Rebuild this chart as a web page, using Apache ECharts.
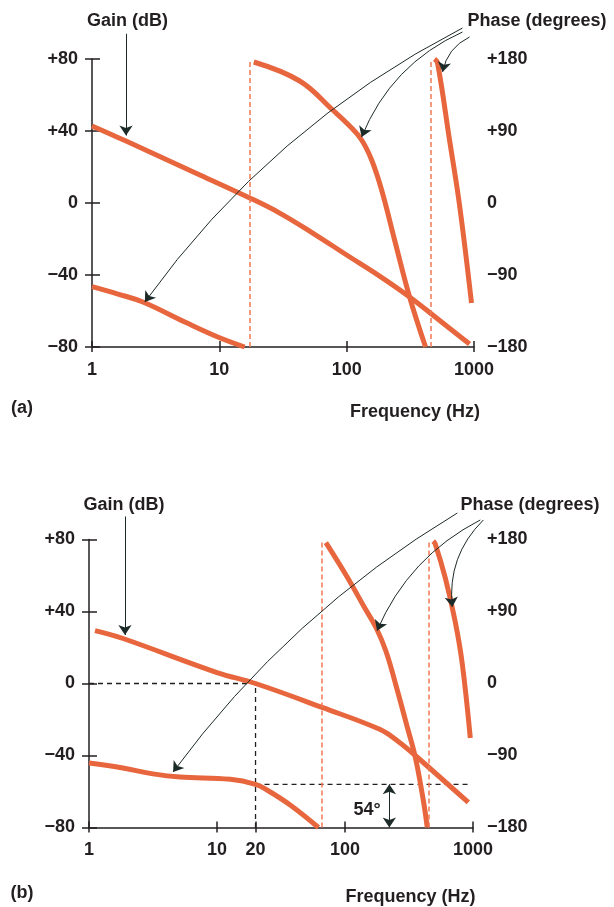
<!DOCTYPE html>
<html>
<head>
<meta charset="utf-8">
<script src="https://cdn.jsdelivr.net/npm/echarts@6/dist/echarts.min.js"></script>
<style>
html, body { margin: 0; padding: 0; background: #fff; }
#chart { width: 614px; height: 907px; }
</style>
</head>
<body>
<div id="chart"></div>
<script>
// Bode plots of a control loop: (a) before compensation, (b) after, with a
// 54° phase margin at the 20 Hz gain crossover.
// Frequency in Hz, gain in dB, phase in degrees (wrapped into ±180).

const freqTicksA = [1, 10, 100, 1000];
const freqTicksB = [1, 10, 20, 100, 1000];
const gainRange = [-80, 80];
const phaseRange = [-180, 180];

// ---- panel (a) ----
const gainA = [[1, 42.8], [1.85, 34.4], [7.03, 15.6], [17.35, 2.8], [29.8, -5.6], [54.1, -16.7],
  [100, -28.9], [181.5, -40.6], [312, -52.2], [508, -63.9], [922, -78.3]];
const phaseA1 = [[1, -104.6], [1.6, -113.8], [2.51, -123.8], [5.36, -148.8], [9.73, -167.5], [15.8, -180]];
const phaseA2 = [[18.65, 176.25], [42.8, 152.5], [77.7, 116.25], [105.6, 96.25], [131.1, 78.75],
  [157.1, 53.75], [188.2, 16.25], [237.9, -46.25], [312, -117.5], [416.6, -180]];
const phaseA3 = [[490, 180], [517.3, 175], [642.5, 78.75], [769.6, -2.5], [955.9, -125]];
const wrapA = [17.3, 456];

// ---- panel (b) ----
const gainB = [[1.114, 29.4], [1.845, 25], [10, 6.1], [20, 0], [66.3, -13.3], [188.4, -25.6],
  [260.6, -32.2], [353.9, -40], [919, -66.1]];
const phaseB1 = [[1, -99.4], [1.84, -105.6], [3.16, -113], [5.14, -117], [12.7, -119.8], [20, -126],
  [24.5, -133], [37.3, -151.9], [62, -180]];
const phaseB2 = [[70.9, 176], [104, 133.1], [141.3, 95.6], [175.4, 69.4], [209.9, 39.4], [255.9, -8.1],
  [306.4, -54.4], [353.9, -91.9], [408.7, -145.6], [439.2, -180]];
const phaseB3 = [[489, 178], [507.3, 174.4], [607.4, 131.9], [727, 76.9], [824.8, 24.4], [952.6, -68.1]];
const wrapB = [66, 453];

const crossoverHz = 20;
const phaseMarginDeg = 54;
const marginLevel = -180 + phaseMarginDeg;
const crossoverGuide = [[1, 0], [crossoverHz, 0], [crossoverHz, -80]];
const marginGuide = [[crossoverHz, marginLevel], [970, marginLevel]];

// call-out arrows: [from, to, curveness]
const gainArrowA = [[1.85, 94], [1.85, 37.5]];
const phaseArrowsA = [
  [[812, 218.75], [2.6, -123.75], -0.12],
  [[812, 213.75], [131, 82.5], -0.2],
  [[922, 207.5], [566, 163.75], -0.25]
];
const gainArrowB = [[1.91, 92.8], [1.91, 27]];
const phaseArrowsB = [
  [[754, 213.1], [4.54, -110.6], -0.1],
  [[1140, 204.4], [178, 66], -0.18],
  [[1205, 204.4], [689, 95.6], -0.24]
];
const marginArrow = [[222, marginLevel], [222, -180]];

const INK = '#231f20';
const ORANGE = '#e8663d';
const WRAP = '#f07a55';
const ARROW = '#1d2b28';
const FONT = '"Liberation Sans", Arial, sans-serif';

const signed = v => v > 0 ? '+' + v : (v < 0 ? '\u2212' + Math.abs(v) : '0');

const chart = echarts.init(document.getElementById('chart'), null, { renderer: 'canvas' });

const grids = [
  { left: 92, top: 59, width: 382, height: 288 },
  { left: 89, top: 539.5, width: 384, height: 288 }
];

function freqAxes(gridIndex, ticks) {
  const base = {
    type: 'log', logBase: 10, min: 1, max: 1000, gridIndex, position: 'bottom', splitLine: { show: false }
  };
  return [
    Object.assign({}, base, {
      axisLine: { show: true, onZero: false, lineStyle: { color: INK, width: 1.5 } },
      axisTick: { show: true, inside: false, length: 5, lineStyle: { color: INK, width: 1.5 }, customValues: ticks },
      axisLabel: { show: true, margin: 14, color: INK, fontFamily: FONT, fontWeight: 'bold', fontSize: 18,
        customValues: ticks, formatter: v => String(v) }
    }),
    Object.assign({}, base, {
      axisLine: { show: false, onZero: false },
      axisTick: { show: true, inside: true, length: 6, lineStyle: { color: INK, width: 1.5 }, customValues: ticks },
      axisLabel: { show: false }
    })
  ];
}

function valueAxes(gridIndex, margins) {
  return [
    {
      type: 'value', gridIndex, position: 'left', min: gainRange[0], max: gainRange[1], interval: 40,
      splitLine: { show: false },
      axisLine: { show: true, onZero: false, lineStyle: { color: INK, width: 1.5 } },
      axisTick: { show: true, inside: false, length: 7, lineStyle: { color: INK, width: 1.5 } },
      axisLabel: { margin: margins[0], color: INK, fontFamily: FONT, fontWeight: 'bold', fontSize: 18, formatter: signed }
    },
    {
      type: 'value', gridIndex, position: 'left', min: gainRange[0], max: gainRange[1], interval: 40,
      splitLine: { show: false }, axisLine: { show: false, onZero: false },
      axisTick: { show: true, inside: true, length: 8, lineStyle: { color: INK, width: 1.5 } },
      axisLabel: { show: false }
    },
    {
      type: 'value', gridIndex, position: 'right', min: phaseRange[0], max: phaseRange[1], interval: 90,
      splitLine: { show: false }, axisLine: { show: false, onZero: false }, axisTick: { show: false },
      axisLabel: { margin: margins[1], color: INK, fontFamily: FONT, fontWeight: 'bold', fontSize: 18, formatter: signed }
    }
  ];
}

function curve(data, xi, yi) {
  return {
    type: 'line', data, xAxisIndex: xi, yAxisIndex: yi, showSymbol: false, smooth: 0.4,
    lineStyle: { color: ORANGE, width: 5, cap: 'butt' }, silent: true, z: 4, animation: false
  };
}

function wrapLines(values, xi, yi) {
  return {
    type: 'line', data: [], xAxisIndex: xi, yAxisIndex: yi, silent: true, animation: false,
    markLine: {
      silent: true, symbol: ['none', 'none'], label: { show: false }, animation: false,
      lineStyle: { color: WRAP, width: 1.5, type: [5, 3] },
      data: values.map(v => ({ xAxis: v }))
    }
  };
}

function guide(data, xi, yi) {
  return {
    type: 'line', data, xAxisIndex: xi, yAxisIndex: yi, showSymbol: false, silent: true, animation: false,
    lineStyle: { color: INK, width: 1.3, type: [5, 4] }, z: 3
  };
}

function arrows(items, xi, yi, symbols) {
  return {
    type: 'lines', coordinateSystem: 'cartesian2d', xAxisIndex: xi, yAxisIndex: yi, clip: false,
    silent: true, animation: false, z: 6,
    symbol: symbols || ['none', 'arrow'], symbolSize: 10,
    lineStyle: { color: ARROW, width: 1, opacity: 1 },
    data: items.map(a => ({ coords: [a[0], a[1]], lineStyle: { curveness: a[2] || 0 } }))
  };
}

function text(x, y, s) {
  return {
    type: 'text', x, y, silent: true,
    style: { text: s, fill: INK, font: 'bold 18px ' + FONT, align: 'center', verticalAlign: 'middle',
      textAlign: 'center', textVerticalAlign: 'middle' }
  };
}

const option = {
  animation: false,
  backgroundColor: '#fff',
  grid: grids,
  xAxis: [...freqAxes(0, freqTicksA), ...freqAxes(1, freqTicksB)],
  yAxis: [...valueAxes(0, [14, 13]), ...valueAxes(1, [14, 14])],
  series: [
    // (a)
    wrapLines(wrapA, 0, 2),
    curve(gainA, 0, 0),
    curve(phaseA1, 0, 2),
    curve(phaseA2, 0, 2),
    curve(phaseA3, 0, 2),
    arrows([[gainArrowA[0], gainArrowA[1], 0]], 0, 0),
    arrows(phaseArrowsA, 0, 2),
    // (b)
    wrapLines(wrapB, 2, 5),
    guide(crossoverGuide, 2, 3),
    guide(marginGuide, 2, 5),
    curve(gainB, 2, 3),
    curve(phaseB1, 2, 5),
    curve(phaseB2, 2, 5),
    curve(phaseB3, 2, 5),
    arrows([[gainArrowB[0], gainArrowB[1], 0]], 2, 3),
    arrows(phaseArrowsB, 2, 5),
    arrows([[marginArrow[0], marginArrow[1], 0]], 2, 5, ['arrow', 'arrow'])
  ],
  graphic: [
    text(127.5, 21, 'Gain (dB)'),
    text(537, 21, 'Phase (degrees)'),
    text(415, 412, 'Frequency (Hz)'),
    text(22, 408, '(a)'),
    text(124, 505, 'Gain (dB)'),
    text(530, 505, 'Phase (degrees)'),
    text(410.5, 897, 'Frequency (Hz)'),
    text(22, 893, '(b)'),
    text(367, 810, phaseMarginDeg + '\u00b0')
  ]
};

chart.setOption(option);
</script>
</body>
</html>
